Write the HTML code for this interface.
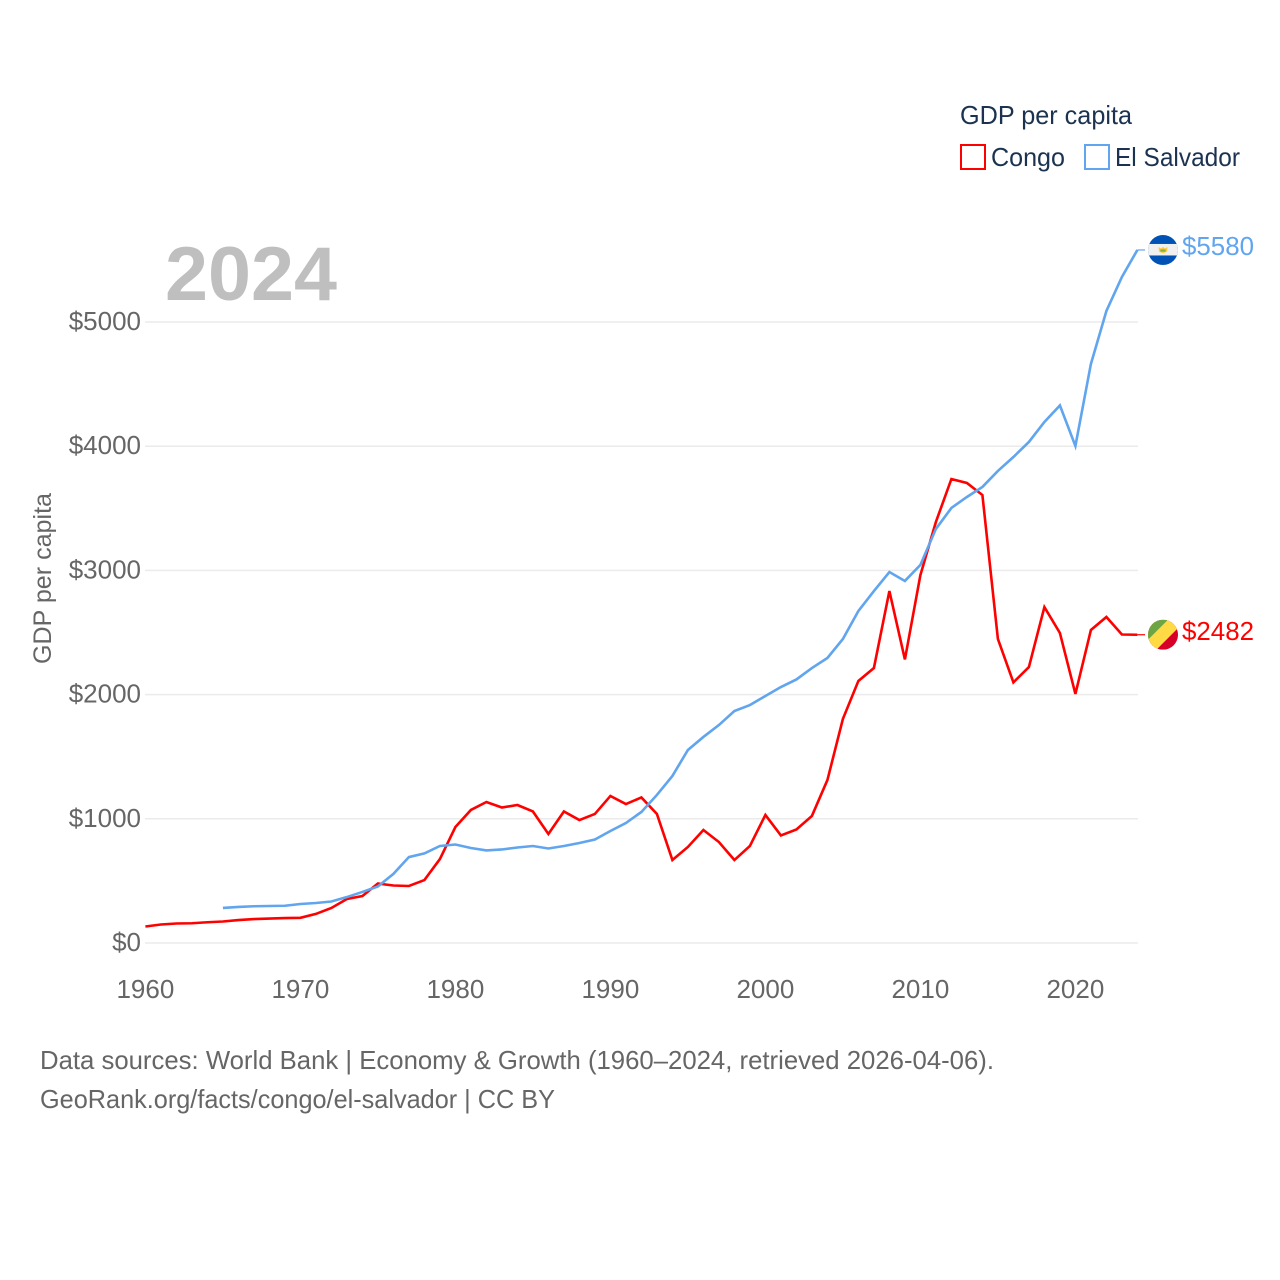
<!DOCTYPE html>
<html lang="en">
<head>
<meta charset="utf-8">
<title>GDP per capita: Congo and El Salvador</title>
<style>
html,body{margin:0;padding:0;background:#fff;}
svg{display:block;}
text{font-family:"Liberation Sans",sans-serif;}
</style>
</head>
<body>
<svg id="chart" width="1280" height="1280" viewBox="0 0 1280 1280" xmlns="http://www.w3.org/2000/svg">
  <rect x="0" y="0" width="1280" height="1280" fill="#ffffff"/>
  <g id="grid"></g>
  <g id="yticks"></g>
  <g id="xticks"></g>
  <text x="165" y="300" font-size="76" font-weight="700" fill="#bfbfbf" textLength="172" lengthAdjust="spacingAndGlyphs">2024</text>
  <text transform="translate(51,664) rotate(-90)" font-size="25" fill="#666666" textLength="171" lengthAdjust="spacingAndGlyphs">GDP per capita</text>
  <g id="series"></g>
  <g id="endmarks"></g>
  <g>
    <text x="960" y="124" font-size="26" fill="#1b3350" textLength="172" lengthAdjust="spacingAndGlyphs">GDP per capita</text>
    <rect x="961" y="145" width="24" height="24" fill="#ffffff" stroke="#ff0000" stroke-width="2"/>
    <text x="991" y="166" font-size="26" fill="#1b3350" textLength="74" lengthAdjust="spacingAndGlyphs">Congo</text>
    <rect x="1085" y="145" width="24" height="24" fill="#ffffff" stroke="#60a5ee" stroke-width="2"/>
    <text x="1115" y="166" font-size="26" fill="#1b3350" textLength="125" lengthAdjust="spacingAndGlyphs">El Salvador</text>
  </g>
  <text x="40" y="1069" font-size="26" fill="#666666" textLength="954" lengthAdjust="spacingAndGlyphs">Data sources: World Bank | Economy &amp; Growth (1960–2024, retrieved 2026-04-06).</text>
  <text x="40" y="1108" font-size="26" fill="#666666" textLength="515" lengthAdjust="spacingAndGlyphs">GeoRank.org/facts/congo/el-salvador | CC BY</text>
</svg>
<script>
const firstYear = 1960;
const lastYear = 2024;
const congoValues = [133,149,157,159,167,173,185,193,197,201,203,234,282,354,378,479,463,459,507,676,934,1071,1135,1091,1111,1059,878,1059,990,1039,1184,1119,1172,1039,668,773,910,813,668,781,1031,866,914,1023,1312,1804,2110,2214,2834,2283,2963,3390,3736,3704,3607,2448,2098,2222,2705,2496,2005,2520,2625,2484,2482];
const elSalvadorStartYear = 1965;
const elSalvadorValues = [282,290,296,298,300,314,322,334,370,411,455,556,692,721,781,793,765,745,753,769,781,761,781,805,833,902,966,1055,1192,1345,1554,1659,1755,1868,1916,1989,2061,2122,2214,2295,2448,2673,2834,2987,2915,3044,3334,3503,3591,3672,3801,3913,4034,4195,4328,4002,4662,5089,5363,5580];
const yTickValues = [0,1000,2000,3000,4000,5000];
const xTickYears = [1960,1970,1980,1990,2000,2010,2020];

const NS = 'http://www.w3.org/2000/svg';
function xScale(year){ return 145.4 + (year - 1960) * 15.5; }
function yScale(value){ return 943 - value * 0.1242; }
function make(tag, attrs, parent){
  const el = document.createElementNS(NS, tag);
  for (const k in attrs) el.setAttribute(k, attrs[k]);
  parent.appendChild(el);
  return el;
}
const gridG = document.getElementById('grid');
const yG = document.getElementById('yticks');
const xG = document.getElementById('xticks');
const seriesG = document.getElementById('series');
const endG = document.getElementById('endmarks');

yTickValues.forEach(function(v){
  const line = make('line', {x1:145, x2:1138, y1:yScale(v), y2:yScale(v), stroke:'#ebebeb', 'stroke-width':1.5}, gridG);
  
  
  const t = make('text', {x:141, y:yScale(v) + 8, 'text-anchor':'end', 'font-size':26, fill:'#666666'}, yG);
  
  
  t.textContent = '$' + v;
});

xTickYears.forEach(function(y){
  const t = make('text', {x:xScale(y), y:998, 'text-anchor':'middle', 'font-size':26, fill:'#666666'}, xG);
  
  
  t.textContent = String(y);
});

function linePoints(startYear, values){
  return values.map(function(v, i){
    return xScale(startYear + i).toFixed(2) + ',' + yScale(v).toFixed(2);
  }).join(' ');
}

const congoLine = make('polyline', {points:linePoints(firstYear, congoValues), fill:'none', stroke:'#ff0000', 'stroke-width':2.6, 'stroke-linejoin':'miter'}, seriesG);



const salvadorLine = make('polyline', {points:linePoints(elSalvadorStartYear, elSalvadorValues), fill:'none', stroke:'#60a5ee', 'stroke-width':2.6, 'stroke-linejoin':'miter'}, seriesG);



function drawEnd(values, color, drawFlag, key, labelOffset){
  const last = values[values.length - 1];
  const y = yScale(last);
  const x0 = xScale(lastYear);
  const conn = make('line', {x1:x0, x2:1145, y1:y, y2:y, stroke:color, 'stroke-width':1.2}, endG);
  
  
  const g = make('g', {transform:'translate(1163,' + y + ')'}, endG);
  
  
  drawFlag(g);
  const t = make('text', {x:1182, y:y + labelOffset, 'font-size':26, fill:color, textLength:72, lengthAdjust:'spacingAndGlyphs'}, endG);
  
  
  t.textContent = '$' + last;
}

const defs = make('defs', {}, document.getElementById('chart'));
const clip = make('clipPath', {id:'flagClip'}, defs);
make('circle', {cx:0, cy:0, r:15}, clip);

drawEnd(elSalvadorValues, '#60a5ee', function(g){
  const f = make('g', {'clip-path':'url(#flagClip)'}, g);
  make('rect', {x:-15, y:-15, width:30, height:30, fill:'#0052b4'}, f);
  make('rect', {x:-15, y:-6, width:30, height:11.5, fill:'#f0f0f0'}, f);
  make('path', {d:'M-4.5,-3 L-2,-1.5 L0,-3 L2,-1.5 L4.5,-3 L4,1.5 Q0,4.5 -4,1.5 Z', fill:'#ffc93c'}, f);
  make('rect', {x:-2.6, y:-0.5, width:5.2, height:2.2, fill:'#7fb24a'}, f);
}, 'el-salvador', 5);

drawEnd(congoValues, '#ff0000', function(g){
  const f = make('g', {'clip-path':'url(#flagClip)'}, g);
  make('rect', {x:-15, y:-15, width:30, height:30, fill:'#d80027'}, f);
  make('path', {d:'M-15,-15 L15,-15 L15,-6.6 L-6.6,15 L-15,15 Z', fill:'#ffda44'}, f);
  make('path', {d:'M-15,-15 L5,-15 L-15,5 Z', fill:'#6da544'}, f);
}, 'congo', 5.5);
</script>
</body>
</html>
